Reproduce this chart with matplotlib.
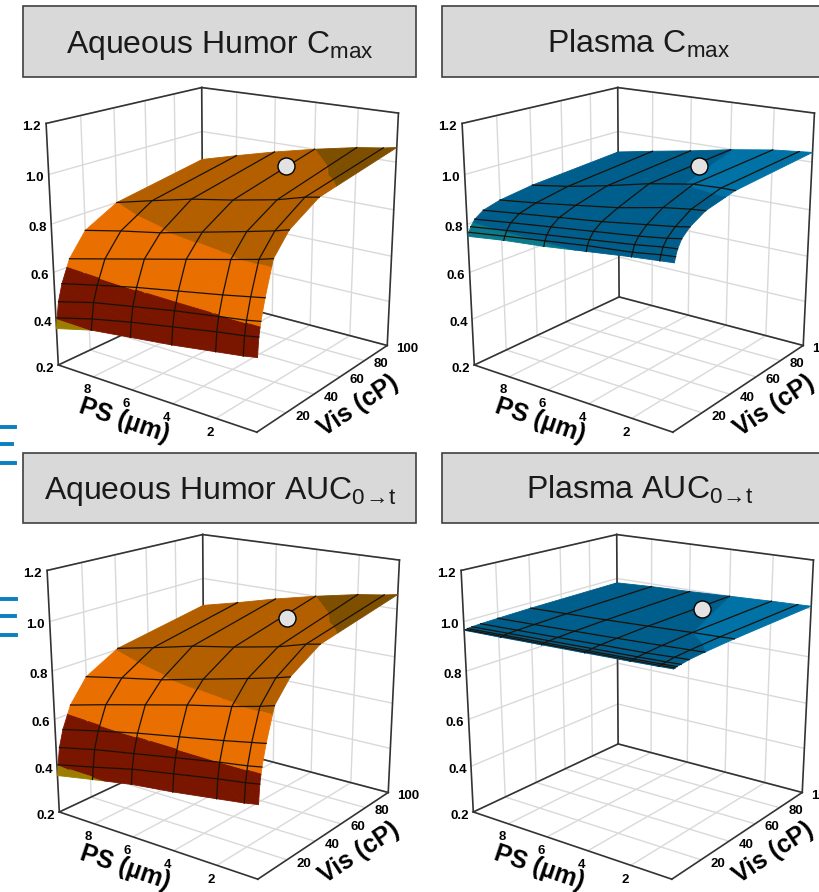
import numpy as np
import matplotlib
matplotlib.use("Agg")
import matplotlib.pyplot as plt
from matplotlib.patches import Rectangle
from matplotlib.lines import Line2D
from matplotlib.transforms import ScaledTranslation
from mpl_toolkits.mplot3d.art3d import Poly3DCollection

W, H = 820, 892
vis_grid = [0.6, 1.3, 2.5, 5, 10, 20, 40, 100]
ps_grid = [0.2, 0.8, 2, 4, 6, 8, 9.9]
vis_ticks = [20, 40, 60, 80, 100]
ps_ticks = [2, 4, 6, 8]
z_ticks = [0.2, 0.4, 0.6, 0.8, 1.0, 1.2]

ah_cmax = [[.49,.48,.465,.44,.42,.40,.36],
           [.565,.555,.54,.51,.48,.445,.404],
           [.62,.61,.595,.57,.54,.51,.47],
           [.70,.69,.67,.64,.61,.575,.54],
           [.83,.815,.79,.75,.71,.67,.632],
           [.91,.895,.87,.83,.79,.76,.727],
           [.985,.975,.945,.91,.88,.84,.80],
           [1.06,1.05,1.035,1.0,.96,.915,.87]]
pl_cmax = [[.84,.835,.825,.805,.785,.77,.75],
           [.86,.855,.84,.825,.805,.785,.765],
           [.885,.88,.865,.845,.825,.805,.785],
           [.915,.905,.89,.87,.85,.83,.81],
           [.945,.935,.92,.895,.875,.855,.835],
           [.98,.975,.96,.925,.90,.875,.855],
           [1.01,1.01,1.005,.975,.935,.90,.875],
           [1.04,1.035,1.025,.998,.965,.935,.905]]
ah_auc = [[.49,.48,.465,.44,.42,.39,.36],
          [.565,.555,.54,.51,.48,.44,.405],
          [.625,.615,.60,.57,.54,.51,.475],
          [.705,.695,.675,.645,.615,.58,.545],
          [.83,.815,.79,.755,.715,.675,.635],
          [.91,.895,.87,.83,.79,.76,.73],
          [.985,.975,.945,.91,.88,.84,.805],
          [1.06,1.05,1.035,1.0,.96,.915,.875]]
pl_auc = [[.985,.983,.98,.976,.972,.968,.965],
          [.987,.985,.982,.978,.974,.97,.966],
          [.989,.987,.984,.98,.976,.972,.968],
          [.991,.989,.986,.982,.978,.974,.97],
          [.996,.994,.989,.985,.98,.976,.972],
          [1.0,.998,.994,.988,.983,.978,.974],
          [1.005,1.003,1.0,.993,.987,.982,.977],
          [1.012,1.01,1.007,1.0,.993,.988,.98]]
point_vis = [75, 75, 75, 75]
point_ps = [3.85, 4.0, 3.85, 3.8]
point_z = [.977, .975, .957, .995]

orange_levels = [-9, .4, .6, .8, 1.0, 9]
orange_cols = ['#9c7d00', '#7a1500', '#e86f00', '#b35f00', '#7f4f00']
blue_levels = [-9, .8, 1.0, 9]
blue_cols = ['#0a7a8a', '#005e8c', '#0072a6']

plt.rcParams['font.family'] = ['Liberation Sans', 'DejaVu Sans']
plt.rcParams['font.weight'] = 'bold'
plt.rcParams['axes.labelweight'] = 'bold'
plt.rcParams['grid.color'] = '#d9d9d9'
plt.rcParams['grid.linewidth'] = 1.0
plt.rcParams['mathtext.fontset'] = 'custom'
plt.rcParams['mathtext.rm'] = 'Liberation Sans:weight=normal'
plt.rcParams['mathtext.it'] = 'Liberation Sans:italic:weight=normal'
plt.rcParams['mathtext.bf'] = 'Liberation Sans:bold'

fig = plt.figure(figsize=(W/100, H/100), dpi=100)

xl, yl, zl = (vis_grid[0], 100), (ps_grid[0], ps_grid[-1]), (0.2, 1.2)
el, az, ry, rz, zm = 17.798, -143.732, 1.0133, 1.0292, 2.0098
s, tx, ty = 1107.373, 226.181, 240.638
vx0, vx1, vy0, vy1 = -0.095, 0.09, -0.095, 0.09

def px_rect(x0_, y0_, x1_, y1_):
    return (x0_/W, 1-y1_/H, (x1_-x0_)/W, (y1_-y0_)/H)

def clip(poly, lo, hi):
    for lev, sign in ((lo, 1), (hi, -1)):
        out = []
        n = len(poly)
        for i in range(n):
            a, b = poly[i], poly[(i+1) % n]
            da, db = sign*(a[2]-lev), sign*(b[2]-lev)
            if da >= 0:
                out.append(a)
            if da*db < 0:
                out.append(a + (b-a)*da/(da-db))
        poly = out
        if len(poly) < 3:
            return []
    return poly

def nudge(ax, txt, dx, dy):
    """Offset a 3D axis text by a few pixels when it is drawn."""
    orig = txt.draw
    tr = ax.transData + ScaledTranslation(dx/100, dy/100, fig.dpi_scale_trans)
    def draw(renderer):
        txt.set_transform(tr)
        return orig(renderer)
    txt.draw = draw

def panel(dx, dy, Z, levels, cols, pt):
    L = tx + dx + s*vx0
    B = H - (ty + dy) + s*vy0
    Sx, Sy = s*(vx1-vx0), s*(vy1-vy0)
    ax = fig.add_axes([L/W, B/H, Sx/W, Sy/H], projection='3d', proj_type='persp', computed_zorder=False)
    ax.patch.set_alpha(0)
    ax.set_xlim(*xl); ax.set_ylim(*yl); ax.set_zlim(*zl)
    ax.view_init(el, az); ax.set_box_aspect((1, ry, rz), zoom=zm)
    ax.set_xticks(vis_ticks); ax.set_yticks(ps_ticks); ax.set_zticks(z_ticks)
    ax.set_zticklabels([f'{v:.1f}' for v in z_ticks])
    ax.tick_params(labelsize=9.5)
    ax.tick_params(axis='x', pad=-6)
    ax.tick_params(axis='y', pad=-5)
    ax.tick_params(axis='z', pad=-5)
    for t in ax.xaxis.get_major_ticks():
        t.label1.set_ha('left')
        nudge(ax, t.label1, 4, 10)
    for t in ax.yaxis.get_major_ticks():
        nudge(ax, t.label1, 0, 5)
    for t in ax.zaxis.get_major_ticks():
        nudge(ax, t.label1, 0, 3)
    ax.set_xlabel('Vis (cP)', fontsize=18, labelpad=-3)
    ax.set_ylabel('PS (µm)', fontsize=18, labelpad=-5)
    nudge(ax, ax.xaxis.label, -19, 50)
    nudge(ax, ax.yaxis.label, 7, 45)
    for a in (ax.xaxis, ax.yaxis, ax.zaxis):
        a.set_pane_color((1, 1, 1, 0))
        a.line.set_color((0, 0, 0, 0))
        a._axinfo['tick']['inward_factor'] = 0
        a._axinfo['tick']['outward_factor'] = 0
    x0, x1, y0, y1, z0, z1 = xl[0], xl[1], yl[0], yl[1], zl[0], zl[1]
    edges = [((x0, y1, z0), (x0, y0, z0)), ((x0, y0, z0), (x1, y0, z0)), ((x1, y0, z0), (x1, y1, z0)), ((x1, y1, z0), (x0, y1, z0)),
             ((x0, y1, z0), (x0, y1, z1)), ((x1, y1, z0), (x1, y1, z1)), ((x1, y0, z0), (x1, y0, z1)),
             ((x0, y1, z1), (x1, y1, z1)), ((x1, y1, z1), (x1, y0, z1))]
    for e0, e1 in edges:
        ax.plot(*zip(e0, e1), color='#333333', lw=1.2, zorder=1, clip_on=False)
    Zv = np.array(Z)
    V, P = np.meshgrid(vis_grid, ps_grid, indexing='ij')
    polys, fc = [], []
    for i in range(Zv.shape[0]-1):
        for j in range(Zv.shape[1]-1):
            pts = [np.array([V[a, b], P[a, b], Zv[a, b]]) for a, b in ((i, j), (i+1, j), (i+1, j+1), (i, j+1))]
            for tri in ([pts[0], pts[1], pts[2]], [pts[0], pts[2], pts[3]]):
                for k, c in enumerate(cols):
                    pl = clip(tri, levels[k], levels[k+1])
                    if len(pl) >= 3:
                        polys.append(np.array(pl)); fc.append(c)
    col = Poly3DCollection(polys, facecolors=fc, edgecolors=fc, linewidths=0.6, zorder=2)
    ax.add_collection3d(col)
    col.set_clip_on(False)
    for i in range(1, Zv.shape[0]-1):
        ax.plot(V[i], P[i], Zv[i], color='#1a1208', lw=0.9, zorder=3, clip_on=False)
    for j in range(1, Zv.shape[1]-1):
        ax.plot(V[:, j], P[:, j], Zv[:, j], color='#1a1208', lw=0.9, zorder=3, clip_on=False)
    ax.scatter([pt[0]], [pt[1]], [pt[2]], s=150, c='#e2e2e2', edgecolors='black', linewidths=1, depthshade=False, zorder=4, clip_on=False)
    return ax

panels = [(0, 0, ah_cmax, orange_levels, orange_cols), (416, 0, pl_cmax, blue_levels, blue_cols),
          (1, 447, ah_auc, orange_levels, orange_cols), (415, 447, pl_auc, blue_levels, blue_cols)]
for n, (dx, dy, Z, lv, cc) in enumerate(panels):
    panel(dx, dy, Z, lv, cc, (point_vis[n], point_ps[n], point_z[n]))

boxes = [(23, 6, 416, 77, 220, 53, 'Aqueous Humor C$_{\\mathrm{max}}$'), (442, 6, 830, 77, 639, 53, 'Plasma C$_{\\mathrm{max}}$'),
         (23, 453, 416, 523, 220, 499, 'Aqueous Humor AUC$_{\\mathrm{0\\!\\rightarrow\\!t}}$'), (442, 453, 830, 523, 640, 499, 'Plasma AUC$_{\\mathrm{0\\!\\rightarrow\\!t}}$')]
for x0_, y0_, x1_, y1_, xc, yb, t in boxes:
    r = px_rect(x0_, y0_, x1_, y1_)
    fig.add_artist(Rectangle(r[:2], r[2], r[3], transform=fig.transFigure, fc='#d9d9d9', ec='#404040', lw=1.2, zorder=5))
    fig.text(xc/W, 1-yb/H, t, ha='center', va='baseline', fontsize=23, fontweight='normal', color='#1a1a1a', zorder=6)

for y, x1_ in ((427, 15), (444, 12), (463, 15), (599, 16), (616, 15), (635, 16)):
    fig.add_artist(Line2D([0, x1_/W], [1-y/H, 1-y/H], transform=fig.transFigure, color='#0a7fc2', lw=2.8, zorder=5))

fig.savefig('out.png', dpi=100)
